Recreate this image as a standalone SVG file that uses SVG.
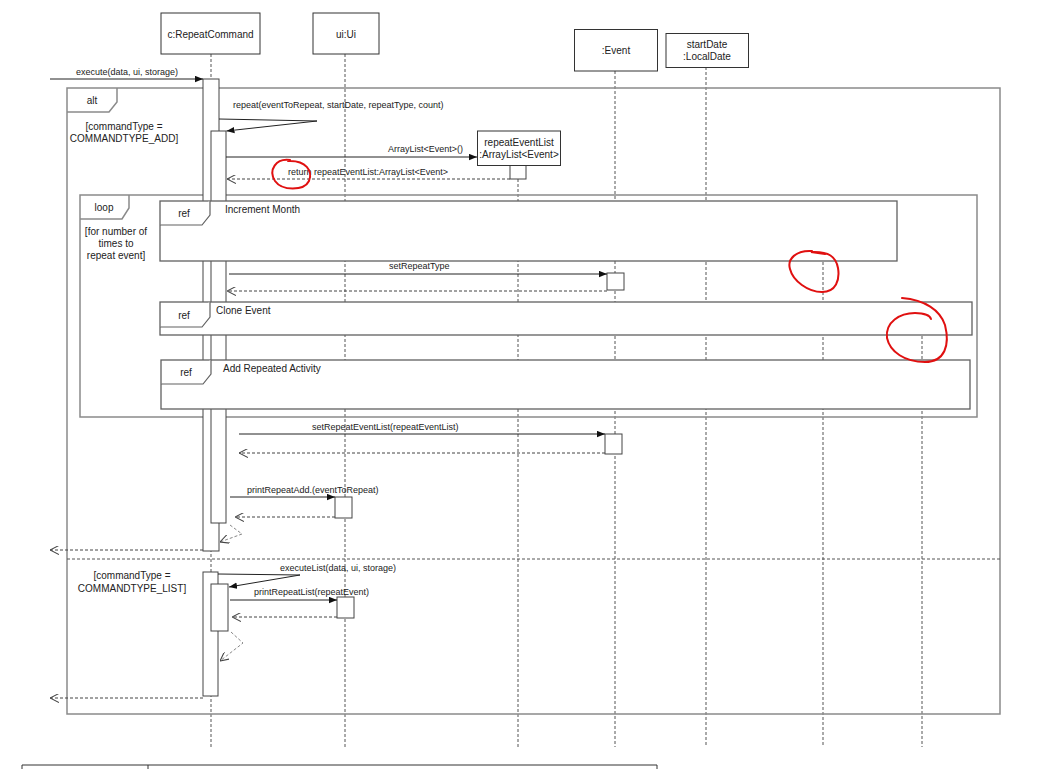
<svg xmlns="http://www.w3.org/2000/svg" width="1063" height="769" viewBox="0 0 1063 769">
<style>
text{font-family:"Liberation Sans",Arial,sans-serif;fill:#222}
.h{font-size:10px;text-anchor:middle}
.m{font-size:9px}
.g{font-size:10px;text-anchor:middle}
.box{fill:#fff;stroke:#333;stroke-width:1}
.life{stroke:#555;stroke-width:1;stroke-dasharray:3 2;fill:none}
.frame{fill:none;stroke:#8a8a8a;stroke-width:1.5}
.ref{fill:#fff;stroke:#606060;stroke-width:1.3}
.tab{fill:#fff;stroke:#606060;stroke-width:1.2}
.bar{fill:#fff;stroke:#444;stroke-width:1}
.call{stroke:#222;stroke-width:1;fill:none;marker-end:url(#fa)}
.ret{stroke:#444;stroke-width:1;stroke-dasharray:3 2;fill:none;marker-end:url(#oa)}
.ret2{stroke:#888;stroke-width:1;stroke-dasharray:3 2;fill:none;marker-end:url(#oa)}
.red{fill:none;stroke:#e01010;stroke-width:2;stroke-linecap:round}
</style>
<defs>
<marker id="fa" viewBox="0 0 10 8" refX="10" refY="4" markerWidth="8" markerHeight="7" markerUnits="userSpaceOnUse" orient="auto"><path d="M0,0 L10,4 L0,8 z" fill="#111"/></marker>
<marker id="oa" viewBox="0 0 10 10" refX="10" refY="5" markerWidth="9" markerHeight="9" markerUnits="userSpaceOnUse" orient="auto"><path d="M0,0 L10,5 L0,10" fill="none" stroke="#444" stroke-width="1.2"/></marker>
</defs>
<rect width="1063" height="769" fill="#fff"/>

<g id="lifelines">
<line class="life" x1="211" y1="54" x2="211" y2="747"/>
<line class="life" x1="345" y1="54" x2="345" y2="747"/>
<line class="life" x1="518" y1="179" x2="518" y2="747"/>
<line class="life" x1="615" y1="71" x2="615" y2="747"/>
<line class="life" x1="706" y1="67" x2="706" y2="747"/>
<line class="life" x1="823" y1="262" x2="823" y2="747"/>
<line class="life" x1="922" y1="336" x2="922" y2="747"/>
</g>

<g id="alt-frame">
<rect class="frame" x="67" y="88" width="933" height="626"/>
<path class="frame" d="M67,112 H109 L117,102 V88"/>
<text x="92" y="104" class="g">alt</text>
<text x="124" y="130" class="g">[commandType =</text>
<text x="124" y="142" class="g">COMMANDTYPE_ADD]</text>
<line x1="67" y1="559" x2="1000" y2="559" stroke="#555" stroke-width="1" stroke-dasharray="3 2"/>
<text x="132" y="579" class="g">[commandType =</text>
<text x="132" y="592" class="g">COMMANDTYPE_LIST]</text>
</g>

<g id="loop-frame">
<rect class="frame" x="80" y="195" width="897" height="222"/>
<path class="frame" d="M80,219 H122 L129,208 V195"/>
<text x="104" y="211" class="g">loop</text>
<text x="116" y="235" class="g">[for number of</text>
<text x="116" y="247" class="g">times to</text>
<text x="116" y="259" class="g">repeat event]</text>
</g>

<g id="activations">
<rect class="bar" x="203" y="79" width="16" height="472"/>
<rect class="bar" x="211" y="131" width="15" height="392"/>
<rect class="bar" x="510" y="165" width="16" height="14"/>
<rect class="bar" x="607" y="273" width="17" height="17"/>
<rect class="bar" x="605" y="434" width="17" height="20"/>
<rect class="bar" x="335" y="497" width="17" height="21"/>
<rect class="bar" x="203" y="572" width="15" height="124"/>
<rect class="bar" x="211" y="584" width="17" height="47"/>
<rect class="bar" x="337" y="597" width="17" height="21"/>
</g>

<g id="ref-increment-month">
<rect class="ref" x="160" y="201" width="737" height="60"/>
<path class="tab" d="M160,225 H202 L210,215 V201"/>
<text x="184" y="217" class="g">ref</text>
<text x="225" y="213" font-size="10">Increment Month</text>
</g>
<g id="ref-clone-event">
<rect class="ref" x="160" y="302" width="812" height="33"/>
<path class="tab" d="M160,327 H202 L210,317 V302"/>
<text x="184" y="319" class="g">ref</text>
<text x="216" y="314" font-size="10">Clone Event</text>
</g>
<g id="ref-add-repeated-activity">
<rect class="ref" x="161" y="360" width="809" height="49"/>
<path class="tab" d="M161,384 H203 L211,374 V360"/>
<text x="186" y="376" class="g">ref</text>
<text x="223" y="372" font-size="10">Add Repeated Activity</text>
</g>

<g id="connectors">
<line class="call" x1="50" y1="79" x2="203" y2="79"/>
<polyline class="call" points="219,119 317,121 226.5,131"/>
<line class="call" x1="226" y1="157" x2="477" y2="157"/>
<line class="ret" x1="510" y1="179" x2="227" y2="179"/>
<line class="call" x1="229" y1="274" x2="607" y2="274"/>
<line class="ret" x1="607" y1="291" x2="227" y2="291"/>
<line class="call" x1="239" y1="434" x2="605" y2="434"/>
<line class="ret" x1="605" y1="453" x2="239" y2="453"/>
<line class="call" x1="230" y1="497" x2="335" y2="497"/>
<line class="ret" x1="335" y1="517" x2="235" y2="517"/>
<polyline class="ret2" points="230,525 242,534 220,542"/>
<line class="ret" x1="203" y1="550" x2="50" y2="550"/>
<polyline class="call" points="218,574 300,575 229,587"/>
<line class="call" x1="230" y1="600" x2="337" y2="600"/>
<line class="ret" x1="337" y1="617" x2="232" y2="617"/>
<polyline class="ret2" points="231,632 243,643 220,661"/>
<line class="ret" x1="203" y1="698" x2="50" y2="698"/>
</g>

<g id="labels">
<text class="m" x="76" y="75">execute(data, ui, storage)</text>
<text class="m" x="233" y="108">repeat(eventToRepeat, startDate, repeatType, count)</text>
<text class="m" x="388" y="152">ArrayList&lt;Event&gt;()</text>
<text class="m" x="288" y="175">return repeatEventList:ArrayList&lt;Event&gt;</text>
<text class="m" x="389" y="269">setRepeatType</text>
<text class="m" x="312" y="430">setRepeatEventList(repeatEventList)</text>
<text class="m" x="247" y="493">printRepeatAdd.(eventToRepeat)</text>
<text class="m" x="280" y="571">executeList(data, ui, storage)</text>
<text class="m" x="254" y="595">printRepeatList(repeatEvent)</text>
</g>

<g id="node-repeatcommand">
<rect class="box" x="161" y="13" width="99" height="41"/>
<text class="h" x="210.5" y="37.5">c:RepeatCommand</text>
</g>
<g id="node-ui">
<rect class="box" x="313" y="13" width="66" height="41"/>
<text class="h" x="346" y="37.5">ui:Ui</text>
</g>
<g id="node-event">
<rect class="box" x="574.5" y="29.5" width="83" height="41.5"/>
<text class="h" x="616" y="54">:Event</text>
</g>
<g id="node-startdate">
<rect class="box" x="666" y="33.5" width="82.5" height="34"/>
<text class="h" x="707" y="48">startDate</text>
<text class="h" x="707" y="60">:LocalDate</text>
</g>
<g id="node-repeateventlist">
<rect class="box" x="477.5" y="131" width="83" height="34.5"/>
<text class="h" x="519" y="146">repeatEventList</text>
<text class="h" x="519" y="158">:ArrayList&lt;Event&gt;</text>
</g>

<g id="table-edge">
<path d="M22,769 V765 H657 V769 M148,765 V769" fill="none" stroke="#333" stroke-width="1"/>
</g>

<g id="annotations">
<path class="red" d="M290,160 C276,158 268,170 275,181 C282,191 304,191 309,181 C313,171 306,160 288,161"/>
<path class="red" d="M812,251 C796,250 787,259 790,269 C793,281 808,292 822,292 C836,292 840,280 838,268 C836,257 829,251 811,252 L825,254"/>
<path class="red" d="M902,298 C925,300 940,310 945,325 C950,345 945,362 925,362 C905,362 890,352 887,338 C885,322 900,313 915,313 C925,313 930,316 931,319"/>
</g>
</svg>
